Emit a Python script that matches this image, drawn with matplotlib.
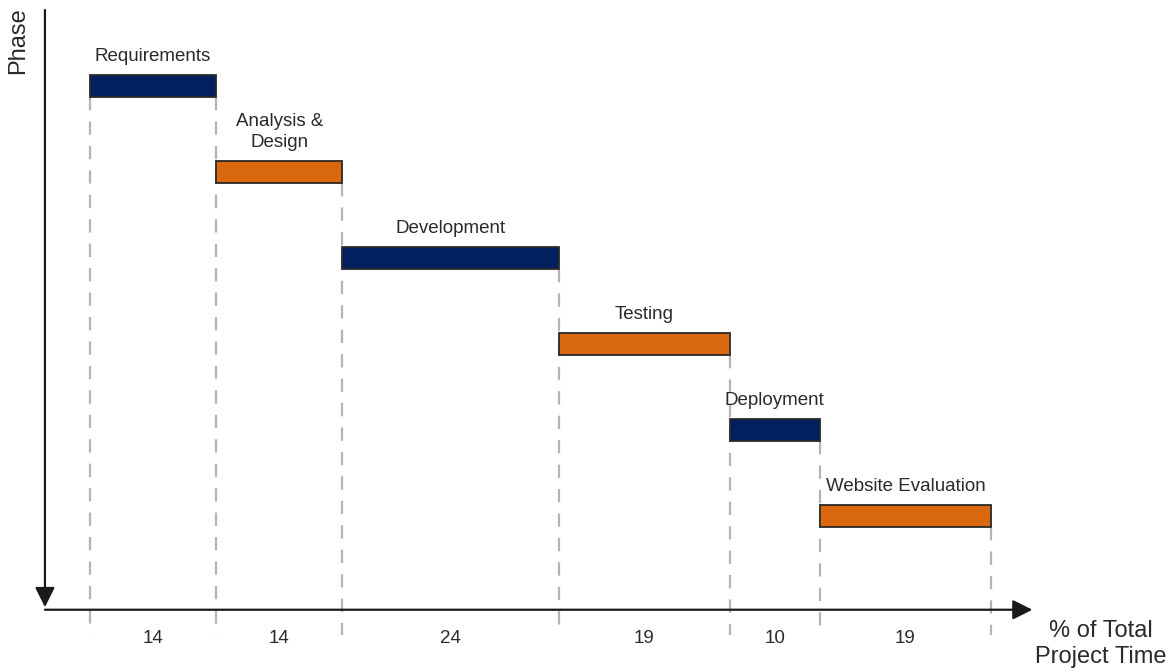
import numpy as np
import matplotlib
matplotlib.use("Agg")
import matplotlib.pyplot as plt

# phase data (% of total project time)
phases = ["Requirements", "Analysis &\nDesign", "Development", "Testing",
          "Deployment", "Website Evaluation"]
durations = [14, 14, 24, 19, 10, 19]
bar_colors = ["#03205e", "#d9680e", "#03205e", "#d9680e", "#03205e", "#d9680e"]

plt.rcParams["font.family"] = ["Liberation Sans", "DejaVu Sans"]

starts = np.concatenate([[0], np.cumsum(durations)[:-1]])
bounds = np.concatenate([[0], np.cumsum(durations)])
rows = np.arange(len(phases))
bar_h = 0.26

fig = plt.figure(figsize=(11.69, 6.70), dpi=100)
ax = fig.add_axes([0, 0, 1, 1])
# 9.01 px per % unit, 86 px per row
ax.set_xlim(-90 / 9.01, (1169 - 90) / 9.01)
ax.set_ylim((670 - 86) / 86, -1.0)
ax.axis("off")

# dashed guide lines
for k, xb in enumerate(bounds):
    r = max(k - 1, 0)
    ax.plot([xb, xb], [r + bar_h / 2, 6.38], color="#b4b4b4", lw=1.6,
            dashes=(6, 5), zorder=1)

ax.barh(rows, durations, left=starts, height=bar_h, color=bar_colors,
        edgecolor="#2a2a2a", linewidth=1.3, zorder=3)

for r, name, s, d in zip(rows, phases, starts, durations):
    ax.text(s + d / 2, r - bar_h / 2 - 0.12, name, ha="center", va="bottom",
            fontsize=13.5, color="#2a2a2a", linespacing=1.3)
    ax.text(s + d / 2, 6.42, str(d), ha="center", va="center",
            fontsize=13.5, color="#2a2a2a")

# axes arrows
ax.annotate("", xy=(-5, 6.06), xytext=(-5, -0.884),
            arrowprops=dict(arrowstyle="-|>", color="#1a1a1a", lw=1.6,
                            mutation_scale=30, shrinkA=0, shrinkB=0))
ax.annotate("", xy=(104.6, 6.09), xytext=(-5, 6.09),
            arrowprops=dict(arrowstyle="-|>", color="#1a1a1a", lw=1.6,
                            mutation_scale=30, shrinkA=0, shrinkB=0))

ax.text(-8.0, -0.53, "Phase", rotation=90, ha="center", va="center",
        fontsize=17, color="#2a2a2a")
ax.text(112.2, 6.49, "% of Total\nProject Time", ha="center", va="center",
        fontsize=17, color="#2a2a2a", linespacing=1.2)

fig.savefig("out.png", dpi=100)
